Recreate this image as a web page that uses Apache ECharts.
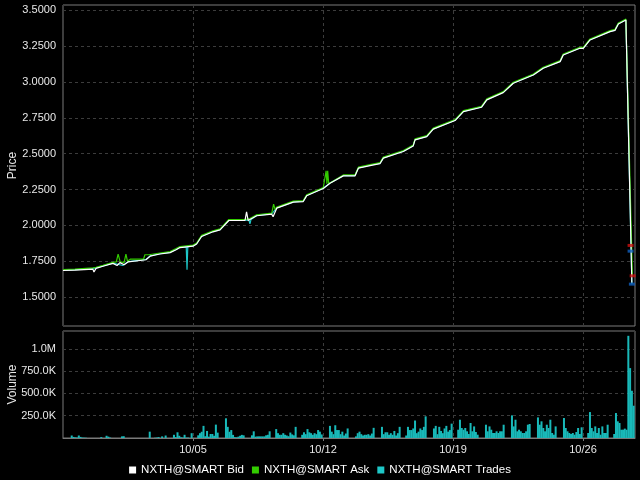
<!DOCTYPE html>
<html><head><meta charset="utf-8">
<script src="https://cdn.jsdelivr.net/npm/echarts@6/dist/echarts.min.js"></script>
<style>html,body{margin:0;padding:0;background:#000}#c{width:640px;height:480px}</style>
</head><body><div id="c"></div>
<script>
// x values are trading-day indices (day 0 = 09/28, day 5 = 10/05 ...)
const tickDays = [5, 10, 15, 20];
const tickLabels = ['10/05', '10/12', '10/19', '10/26'];
const priceTicks = [1.5, 1.75, 2.0, 2.25, 2.5, 2.75, 3.0, 3.25, 3.5];

const bidT = [0.0,0.46,1.15,1.19,1.27,1.54,1.92,2.08,2.19,2.35,2.5,2.96,3.19,3.35,3.73,4.12,4.35,4.5,5.0,5.14,5.33,5.77,6.04,6.38,7.0,7.06,7.12,7.19,7.45,8.03,8.08,8.22,8.86,9.24,9.37,10.01,10.27,10.78,11.23,11.36,11.81,12.19,12.32,13.09,13.47,13.54,13.99,14.24,15.08,15.40,16.10,16.30,16.93,17.32,18.09,18.47,19.12,19.24,19.88,20.01,20.27,21.04,21.23,21.36,21.65,21.88];
const bidP = [1.685,1.688,1.695,1.675,1.700,1.715,1.735,1.720,1.740,1.725,1.745,1.755,1.760,1.785,1.800,1.810,1.830,1.845,1.855,1.870,1.922,1.955,1.968,2.034,2.034,2.094,2.034,2.040,2.067,2.078,2.060,2.120,2.162,2.166,2.206,2.257,2.294,2.345,2.345,2.399,2.417,2.430,2.469,2.515,2.554,2.596,2.619,2.671,2.731,2.793,2.824,2.875,2.926,2.991,3.049,3.096,3.142,3.188,3.235,3.235,3.293,3.351,3.360,3.405,3.432,1.600];

const askT = [0.0,0.46,1.15,1.27,1.54,1.92,2.05,2.12,2.2,2.35,2.42,2.48,2.6,3.1,3.15,3.3,3.35,3.73,4.12,4.35,4.5,5.0,5.14,5.33,5.77,6.04,6.38,7.0,7.19,7.45,8.03,8.1,8.16,8.22,8.86,9.24,9.37,10.01,10.12,10.15,10.18,10.22,10.27,10.78,11.23,11.36,11.81,12.19,12.32,13.09,13.47,13.54,13.99,14.24,15.08,15.40,16.10,16.30,16.93,17.32,18.09,18.47,19.12,19.24,19.88,20.01,20.27,21.04,21.23,21.36,21.65,21.90];
const askP = [1.692,1.695,1.703,1.708,1.722,1.742,1.745,1.800,1.745,1.740,1.800,1.750,1.765,1.765,1.795,1.795,1.790,1.807,1.817,1.838,1.852,1.862,1.877,1.930,1.962,1.975,2.041,2.041,2.047,2.074,2.085,2.148,2.110,2.127,2.169,2.173,2.213,2.264,2.380,2.290,2.380,2.290,2.301,2.352,2.352,2.406,2.424,2.437,2.476,2.522,2.561,2.603,2.626,2.678,2.738,2.800,2.831,2.882,2.933,2.998,3.056,3.103,3.149,3.195,3.242,3.242,3.300,3.358,3.367,3.412,3.439,1.650];

const trdT = [0.0,1.15,1.54,1.92,2.3,2.5,2.55,3.19,3.35,3.73,4.12,4.35,4.5,4.74,4.77,4.8,5.0,5.14,5.33,5.77,6.04,6.38,7.0,7.15,7.19,7.23,7.45,8.03,8.22,8.86,9.24,9.37,10.01,10.27,10.78,11.23,11.36,11.81,12.19,12.32,13.09,13.47,13.54,13.99,14.24,15.08,15.40,16.10,16.30,16.93,17.32,18.09,18.47,19.12,19.24,19.88,20.01,20.27,21.04,21.23,21.36,21.65,21.88];
const trdP = [1.687,1.697,1.717,1.737,1.720,1.747,1.760,1.762,1.787,1.802,1.812,1.832,1.847,1.850,1.690,1.852,1.857,1.872,1.924,1.957,1.970,2.036,2.036,2.036,2.011,2.040,2.069,2.080,2.122,2.164,2.168,2.208,2.259,2.296,2.347,2.347,2.401,2.419,2.432,2.471,2.517,2.556,2.598,2.621,2.673,2.733,2.795,2.826,2.877,2.928,2.993,3.051,3.098,3.144,3.190,3.237,3.237,3.295,3.353,3.362,3.407,3.434,1.590];

// end-of-period bid/ask marks
const redMarkT = [21.83, 21.91];
const redMarkP = [1.860, 1.648];
const blueMarkT = [21.83, 21.88];
const blueMarkP = [1.820, 1.590];

// volume (thousands) per trading day, 12 intraday bars each
const volumeByDay = [
  [0,0,28,12,8,5,28,12,5,4,3,0],
  [0,0,0,0,10,0,0,25,15,5,0,0],
  [0,18,20,0,0,0,0,0,0,0,0,0],
  [0,0,71,0,0,3,5,10,0,18,0,28],
  [0,36,10,64,25,8,5,36,5,5,0,54],
  [30,54,70,136,20,79,15,45,45,25,150,60],
  [0,221,125,70,89,35,10,8,15,25,35,30],
  [0,30,75,15,18,18,18,18,18,30,36,75],
  [100,54,36,36,54,36,28,20,61,40,30,125],
  [36,64,43,100,64,54,36,54,43,89,71,40],
  [0,136,71,43,143,89,89,43,71,28,50,107],
  [0,18,54,71,43,28,36,36,43,28,50,114],
  [0,125,43,64,64,36,54,36,79,28,54,125],
  [28,125,89,89,107,196,54,71,107,89,125,243],
  [0,107,136,43,125,79,54,107,136,71,89,161],
  [93,205,112,93,112,75,45,168,75,130,67,37],
  [0,149,75,130,93,56,56,75,56,75,75,149],
  [0,254,130,205,75,93,75,56,56,75,149,157],
  [0,231,149,187,112,75,149,112,205,56,37,130],
  [0,224,112,75,56,45,56,37,67,112,45,120],
  [56,291,112,75,130,56,112,37,130,56,56,149],
  [45,280,187,168,93,93,105,93,1146,784,530,362]
];

const zip = (a, b) => a.map((v, i) => [v, b[i]]);
const volData = [];
volumeByDay.forEach((bars, d) => bars.forEach((v, k) => {
  if (v > 0) volData.push([d + 0.2 + k * 0.068, v * 1000]);
}));

const labelColor = '#e8e8e8';
const font = 'Liberation Sans, Arial, sans-serif';
const splitLine = { show: true, lineStyle: { color: '#3c3c3c', type: [3, 3], width: 1 } };
const xLabelFmt = v => { const i = tickDays.indexOf(Math.round(v)); return (i >= 0 && Math.abs(v - tickDays[i]) < 1e-6) ? tickLabels[i] : ''; };
const volFmt = v => v >= 1e6 ? (v / 1e6).toFixed(1) + 'M' : (v / 1e3).toFixed(1) + 'K';

const chart = echarts.init(document.getElementById('c'));
chart.setOption({
  animation: false,
  backgroundColor: '#000',
  textStyle: { fontFamily: font },
  legend: {
    top: 459, left: 'center', icon: 'rect', itemWidth: 7, itemHeight: 7, itemGap: 8,
    textStyle: { color: '#ffffff', fontSize: 11.5, fontFamily: font },
    data: [
      { name: 'NXTH@SMART Bid', itemStyle: { color: '#ffffff' } },
      { name: 'NXTH@SMART Ask', itemStyle: { color: '#33cc00' } },
      { name: 'NXTH@SMART Trades', itemStyle: { color: '#1ec8c8' } }
    ]
  },
  grid: [
    { left: 63, right: 5, top: 5, height: 321, show: true, borderColor: '#7a7a7a', borderWidth: 1, backgroundColor: 'transparent', containLabel: false, outerBoundsMode: 'none' },
    { left: 63, right: 5, top: 331, height: 107, show: true, borderColor: '#7a7a7a', borderWidth: 1, backgroundColor: 'transparent', containLabel: false, outerBoundsMode: 'none' }
  ],
  xAxis: [
    { type: 'value', gridIndex: 0, min: 0, max: 22, interval: 5,
      axisLine: { show: false }, axisTick: { show: false }, axisLabel: { show: false }, splitLine },
    { type: 'value', gridIndex: 1, min: 0, max: 22, interval: 5,
      axisLine: { show: true, lineStyle: { color: '#7a7a7a' } },
      axisTick: { show: true, length: 3, lineStyle: { color: '#7a7a7a' } },
      axisLabel: { color: labelColor, fontSize: 11, margin: 6, formatter: xLabelFmt, showMinLabel: false, showMaxLabel: false },
      splitLine }
  ],
  yAxis: [
    { type: 'value', gridIndex: 0, min: 1.298, max: 3.537,
      name: 'Price', nameLocation: 'middle', nameGap: 44, nameRotate: 90, nameMoveOverlap: false,
      nameTextStyle: { color: labelColor, fontSize: 12 },
      axisLine: { show: false },
      axisTick: { show: false, customValues: priceTicks },
      axisLabel: { color: labelColor, fontSize: 11, margin: 7, formatter: v => v.toFixed(4), customValues: priceTicks },
      splitLine },
    { type: 'value', gridIndex: 1, min: 0, max: 1200000, interval: 250000,
      name: 'Volume', nameLocation: 'middle', nameGap: 44, nameRotate: 90, nameMoveOverlap: false,
      nameTextStyle: { color: labelColor, fontSize: 12 },
      axisLine: { show: false }, axisTick: { show: false },
      axisLabel: { color: labelColor, fontSize: 11, margin: 7, formatter: volFmt, showMinLabel: false, showMaxLabel: false },
      splitLine }
  ],
  series: [
    { name: 'NXTH@SMART Trades', type: 'line', xAxisIndex: 0, yAxisIndex: 0, data: zip(trdT, trdP),
      showSymbol: false, lineStyle: { color: '#1ec8c8', width: 1.2 }, itemStyle: { color: '#1ec8c8' }, z: 2 },
    { name: 'NXTH@SMART Ask', type: 'line', xAxisIndex: 0, yAxisIndex: 0, data: zip(askT, askP),
      showSymbol: false, lineStyle: { color: '#33cc00', width: 1.2 }, itemStyle: { color: '#33cc00' }, z: 3 },
    { name: 'NXTH@SMART Bid', type: 'line', xAxisIndex: 0, yAxisIndex: 0, data: zip(bidT, bidP),
      showSymbol: false, lineStyle: { color: '#ffffff', width: 1.2 }, itemStyle: { color: '#ffffff' }, z: 4 },
    { name: 'askMark', type: 'scatter', xAxisIndex: 0, yAxisIndex: 0, data: zip(redMarkT, redMarkP),
      symbol: 'rect', symbolSize: [6, 3], itemStyle: { color: '#d01010' }, z: 5 },
    { name: 'bidMark', type: 'scatter', xAxisIndex: 0, yAxisIndex: 0, data: zip(blueMarkT, blueMarkP),
      symbol: 'rect', symbolSize: [6, 3], itemStyle: { color: '#1060c0' }, z: 5 },
    { name: 'Volume', type: 'bar', xAxisIndex: 1, yAxisIndex: 1, data: volData, barWidth: 2,
      itemStyle: { color: '#19b9b9' }, large: false }
  ]
});
</script>
</body></html>
